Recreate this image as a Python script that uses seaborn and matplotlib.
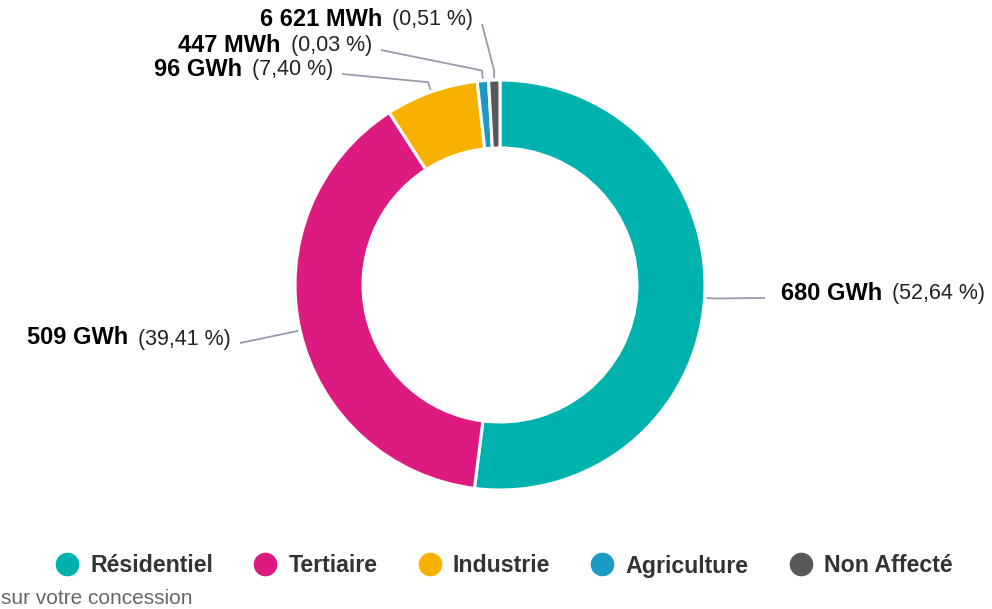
import matplotlib
matplotlib.use("Agg")
import matplotlib.pyplot as plt
import numpy as np
import seaborn as sns
from matplotlib.lines import Line2D

# Data
categories = ["Résidentiel", "Tertiaire", "Industrie", "Agriculture", "Non Affecté"]
shares = [52.64, 39.41, 7.40, 0.03, 0.51]
energy_labels = ["680 GWh", "509 GWh", "96 GWh", "447 MWh", "6 621 MWh"]
share_labels = ["(52,64 %)", "(39,41 %)", "(7,40 %)", "(0,03 %)", "(0,51 %)"]
colors = ["#00b2ae", "#dd1a80", "#f8b100", "#1c9ac6", "#58585a"]

# tiny slices get a minimum visible width, like the original chart
min_share = 0.9
display_shares = [max(s, min_share) for s in shares]

sns.set_theme(style="white")
plt.rcParams['font.family'] = ['Liberation Sans', 'DejaVu Sans']

W, H = 992, 609
cx, cy, R = 500, 285, 205   # donut centre / outer radius in pixels
inner = 137

fig = plt.figure(figsize=(W / 100, H / 100), dpi=100)
ax = fig.add_axes([0, 0, 1, 1])

wedges, _ = ax.pie(display_shares, colors=colors, startangle=90,
                   counterclock=False, radius=1,
                   wedgeprops=dict(width=(R - inner) / R, edgecolor='white',
                                   linewidth=2.2))

ax.set_xlim(-cx / R, (W - cx) / R)
ax.set_ylim(-(H - cy) / R, cy / R)
ax.set_aspect('equal', adjustable='box')
ax.axis('off')


def px(x, y):
    return (x - cx) / R, (cy - y) / R


# label layout: line end (pixels) and side
label_layout = [(765, 298, 'left'), (240, 343, 'right'), (342, 74, 'right'),
                (381, 50, 'right'), (482, 24, 'right')]

renderer = fig.canvas.get_renderer()
line_color = '#9a9aac'
for w, energy, share, (lx, ly, side) in zip(wedges, energy_labels,
                                            share_labels, label_layout):
    mid = np.deg2rad((w.theta1 + w.theta2) / 2)
    p0 = (1.01 * np.cos(mid), 1.01 * np.sin(mid))
    p1 = (1.05 * np.cos(mid), 1.05 * np.sin(mid))
    p2 = px(lx, ly)
    ax.plot([p0[0], p1[0], p2[0]], [p0[1], p1[1], p2[1]],
            color=line_color, lw=1.3, solid_capstyle='butt')
    ty = ly - 5
    if side == 'left':
        tx = lx + 16
        t1 = ax.text(*px(tx, ty), energy, fontsize=17, fontweight='bold',
                     color='black', ha='left', va='center')
        wpx = t1.get_window_extent(renderer).width
        ax.text(*px(tx + wpx + 10, ty + 1), share, fontsize=15.5,
                color='#222222', ha='left', va='center')
    else:
        tx = lx - 9
        t2 = ax.text(*px(tx, ty + 1), share, fontsize=15.5, color='#222222',
                     ha='right', va='center')
        wpx = t2.get_window_extent(renderer).width
        ax.text(*px(tx - wpx - 10, ty), energy, fontsize=17,
                fontweight='bold', color='black', ha='right', va='center')

# Legend
handles = [Line2D([], [], marker='o', linestyle='none', markersize=16,
                  markerfacecolor=c, markeredgecolor=c) for c in colors]
fig.legend(handles, categories, loc='center', ncol=5,
           bbox_to_anchor=(0.508, 1 - 566 / H), frameon=False,
           prop=dict(size=16.7, weight='bold'), labelcolor='#333333',
           handlelength=1.0, handletextpad=0.5, columnspacing=1.75)

fig.text(0.001, 1 - 599 / H, "sur votre concession", fontsize=15,
         color='#666666', ha='left', va='center')

fig.savefig("out.png", dpi=100, facecolor='white')
